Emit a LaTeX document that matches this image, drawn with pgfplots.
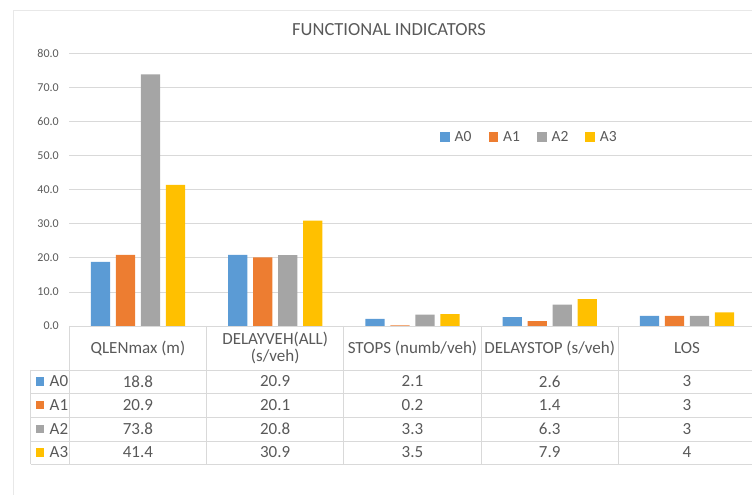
\documentclass[border=0pt]{standalone}
\usepackage{fontspec}
\setmainfont{Carlito}
\usepackage{pgfplots}
\usepackage{pgfplotstable}
\pgfplotsset{compat=1.18}

\definecolor{cA0}{HTML}{5B9BD5}
\definecolor{cA1}{HTML}{ED7D31}
\definecolor{cA2}{HTML}{A5A5A5}
\definecolor{cA3}{HTML}{FFC000}
\definecolor{gridc}{HTML}{D9D9D9}
\definecolor{txt}{HTML}{595959}

\newcommand{\tickfont}{\fontsize{12}{14}\selectfont}
\newcommand{\celfont}{\fontsize{17}{17.7}\selectfont}
\newcommand{\legfont}{\fontsize{15.5}{18}\selectfont}
\newcommand{\titfont}{\fontsize{18.5}{22}\selectfont}

% one row per indicator, one column per alternative
\pgfplotstableread{
x A0   A1   A2   A3
0 18.8 20.9 73.8 41.4
1 20.9 20.1 20.8 30.9
2 2.1  0.2  3.3  3.5
3 2.6  1.4  6.3  7.9
4 3    3    3    4
}\funcdata

\begin{document}
\begin{tikzpicture}
\useasboundingbox (0,0) rectangle (752pt,495pt);
% chart area border
\draw[gray!18] (13.3pt,-5pt) -- (13.3pt,485pt) -- (770pt,485pt);
\node[text=txt, font=\titfont] at (389pt,465pt) {FUNCTIONAL INDICATORS};

\begin{axis}[
    at={(69.3pt,169pt)}, anchor=south west,
    scale only axis,
    width=686.3pt, height=272.7pt,
    xmin=-0.5, xmax=4.5,
    ymin=0, ymax=80,
    clip=false,
    axis line style={draw=none},
    major tick length=0pt,
    ymajorgrids,
    grid style={gridc, line width=0.8pt},
    ytick={0,10,...,80},
    yticklabel style={text=txt, font=\tickfont, xshift=-7pt,
        /pgf/number format/.cd, fixed, fixed zerofill, precision=1,
        assume math mode=true},
    xtick={0,1,2,3,4},
    xticklabels={{QLENmax (m)},{DELAYVEH(ALL)\\(s/veh)},{STOPS (numb/veh)},{DELAYSTOP (s/veh)},{LOS}},
    xticklabel style={text=txt, font=\celfont, align=center, anchor=center, yshift=-22pt},
    legend columns=4,
    legend style={at={(axis description cs:0.540,0.693)}, anchor=west,
        draw=none, fill=none, inner sep=0pt, font=\legfont, text=txt,
        /tikz/every odd column/.append style={column sep=3pt},
        /tikz/every even column/.append style={column sep=15pt}},
    bars/.style={ybar, bar width=19.3pt, draw=none,
        legend image code/.code={\fill[##1] (0pt,-4.8pt) rectangle (9.6pt,4.8pt);}},
    cell/.style={only marks, mark=none, forget plot, nodes near coords,
        point meta=explicit symbolic,
        every node near coord/.append style={anchor=center, text=txt, font=\celfont}},
]
\addplot[bars, fill=cA0, bar shift=-37.5pt] table[x=x, y=A0] {\funcdata};
\addplot[bars, fill=cA1, bar shift=-12.5pt] table[x=x, y=A1] {\funcdata};
\addplot[bars, fill=cA2, bar shift=12.5pt]  table[x=x, y=A2] {\funcdata};
\addplot[bars, fill=cA3, bar shift=37.5pt]  table[x=x, y=A3] {\funcdata};
\legend{A0,A1,A2,A3}

% data table cells
\addplot[cell] table[x=x, y expr=-16.28, meta=A0] {\funcdata};
\addplot[cell] table[x=x, y expr=-23.17, meta=A1] {\funcdata};
\addplot[cell] table[x=x, y expr=-30.21, meta=A2] {\funcdata};
\addplot[cell] table[x=x, y expr=-37.11, meta=A3] {\funcdata};
\end{axis}

% data table grid
\begin{scope}[gridc, line width=0.8pt]
\draw (69.3pt,169pt) -- (760pt,169pt);
\foreach \yy in {125,102,78,54,31} \draw (30.7pt,\yy pt) -- (760pt,\yy pt);
\draw (30.7pt,125pt) -- (30.7pt,31pt);
\foreach \xx in {69.3,206.55,343.8,481.05,618.3} \draw (\xx pt,169pt) -- (\xx pt,31pt);
\end{scope}
% legend keys of the table rows
\foreach \c/\n/\yy in {cA0/A0/113.5, cA1/A1/90, cA2/A2/66, cA3/A3/42.5} {
  \fill[\c] (35.7pt,\yy pt-4.4pt) rectangle (44.3pt,\yy pt+4.4pt);
  \node[anchor=west, inner sep=0pt, text=txt, font=\celfont] at (49.5pt,\yy pt) {\n};
}
\end{tikzpicture}
\end{document}
